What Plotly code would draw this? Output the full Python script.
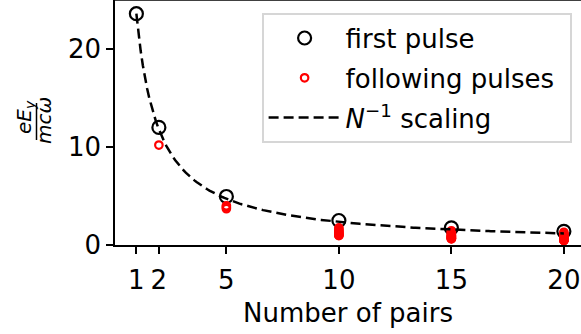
import numpy as np
import plotly.graph_objects as go

# ---- data ----
n_pairs = [1, 2, 5, 10, 15, 20]
first_pulse = [23.6, 12.0, 4.95, 2.5, 1.75, 1.4]

following_n = ([2]
               + [5] * 3
               + [10] * 9
               + [15] * 14
               + [20] * 19)
following_vals = ([10.2]
                  + [4.0, 3.85, 3.7]
                  + [1.75, 1.6, 1.45, 1.35, 1.25, 1.15, 1.05, 1.0, 0.95]
                  + [1.45, 1.3, 1.2, 1.1, 1.0, 0.95, 0.9, 0.85, 0.8, 0.75, 0.7, 0.68, 0.65, 0.62]
                  + [1.3, 1.15, 1.05, 0.95, 0.9, 0.85, 0.8, 0.75, 0.7, 0.66, 0.62, 0.6, 0.57,
                     0.55, 0.53, 0.51, 0.49, 0.48, 0.47])

x_ticks = [1, 2, 5, 10, 15, 20]
y_ticks = [0, 10, 20]

# N^-1 scaling curve, anchored at the first-pulse value for one pair
scaling_n = np.linspace(1, 20, 200)
scaling_vals = first_pulse[0] / scaling_n

# ---- layout geometry (pixels) ----
W, H = 581, 334
ML, MR, MT, MB = 115, 0, 0, 89
PW = W - ML - MR
PH = H - MT - MB

def px_x(p):
    return (p - ML) / PW

def px_y(p):
    return (H - MB - p) / PH

FONT = "DejaVu Sans"
FS = 26

fig = go.Figure()
fig.add_trace(go.Scatter(
    x=n_pairs, y=first_pulse, mode="markers", name="first pulse",
    legendgroup="a",
    marker=dict(symbol="circle-open", size=13, color="black", line=dict(width=2.2)),
))
fig.add_trace(go.Scatter(
    x=following_n, y=following_vals, mode="markers", name="following pulses\u2009\u2009",
    legendgroup="b",
    marker=dict(symbol="circle-open", size=7.5, color="red", line=dict(width=2.2)),
))
fig.add_trace(go.Scatter(
    x=scaling_n, y=scaling_vals, mode="lines", name="<i>N</i><sup>−1</sup> scaling",
    legendgroup="c",
    line=dict(color="black", width=2.5, dash="10px,5px"),
))

fig.update_layout(
    width=W, height=H,
    margin=dict(l=ML, r=MR, t=MT, b=MB),
    plot_bgcolor="white", paper_bgcolor="white",
    font=dict(family=FONT, size=FS, color="black"),
    showlegend=True,
    legend=dict(
        x=px_x(262), y=px_y(13), xanchor="left", yanchor="top",
        bgcolor="white", bordercolor="#d6d6d6", borderwidth=1.6,
        font=dict(family=FONT, size=FS),
        tracegroupgap=3, itemwidth=72,
    ),
    xaxis=dict(
        range=[0.05, 0.05 + PW / 22.5], tickmode="array", tickvals=x_ticks,
        ticktext=[str(v) for v in x_ticks],
        showgrid=False, zeroline=False, showline=True, linecolor="black", linewidth=1.6,
        ticks="outside", ticklen=7, tickwidth=1.6, tickcolor="black",
        ticklabelstandoff=4,
        title=dict(text="Number of pairs", font=dict(size=FS), standoff=10),
    ),
    yaxis=dict(
        range=[0, 25], tickmode="array", tickvals=y_ticks,
        showgrid=False, zeroline=False, showline=True, linecolor="black", linewidth=1.6,
        ticks="outside", ticklen=7, tickwidth=1.6, tickcolor="black",
    ),
)

# top spine
fig.add_shape(type="line", xref="paper", yref="paper", x0=0, x1=1, y0=1, y1=1,
              line=dict(color="black", width=1.6))

# y-axis label as a rotated fraction eE_y / mcω
fig.add_annotation(xref="paper", yref="paper", x=px_x(25), y=px_y(117),
                   text="<i>eE</i><sub><i>y</i></sub>", textangle=-90, showarrow=False,
                   xanchor="center", yanchor="middle", font=dict(family=FONT, size=20))
fig.add_annotation(xref="paper", yref="paper", x=px_x(44), y=px_y(121),
                   text="<i>mcω</i>", textangle=-90, showarrow=False,
                   xanchor="center", yanchor="middle", font=dict(family=FONT, size=20))
fig.add_shape(type="line", xref="paper", yref="paper",
              x0=px_x(36.5), x1=px_x(36.5), y0=px_y(103), y1=px_y(140),
              line=dict(color="black", width=1.5))

fig.write_html("out.html")
